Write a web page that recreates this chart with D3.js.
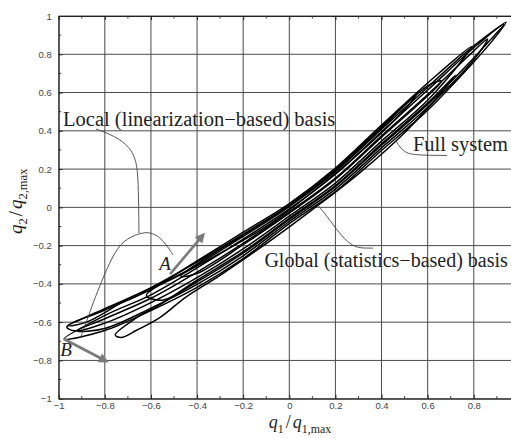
<!DOCTYPE html>
<html>
<head>
<meta charset="utf-8">
<script src="https://cdn.jsdelivr.net/npm/d3@7"></script>
<style>
  body { margin: 0; background: #fff; }
  svg { display: block; }
</style>
</head>
<body>
<svg id="chart" width="511" height="438"></svg>
<script>
// Axis ticks (normalised displacements)
const xTickValues = [-1, -0.8, -0.6, -0.4, -0.2, 0, 0.2, 0.4, 0.6, 0.8, 1];
const yTickValues = [-1, -0.8, -0.6, -0.4, -0.2, 0, 0.2, 0.4, 0.6, 0.8, 1];
const minorTickValues = [-0.9, -0.7, -0.5, -0.3, -0.1, 0.1, 0.3, 0.5, 0.7, 0.9];
const xTickLabels = ["\u22121", "\u22120.8", "\u22120.6", "\u22120.4", "\u22120.2", "0", "0.2", "0.4", "0.6", "0.8"];
const yTickLabels = ["\u22121", "\u22120.8", "\u22120.6", "\u22120.4", "\u22120.2", "0", "0.2", "0.4", "0.6", "0.8", "1"];

// Phase-plane orbits of the full system (q1/q1,max, q2/q2,max), one closed cycle each
const orbit1 = [[-0.977,-0.688],[-0.8,-0.565],[-0.6,-0.457],[-0.4,-0.316],[-0.2,-0.166],[0,-0.008],[0.2,0.173],[0.4,0.395],[0.6,0.613],[0.8,0.834],[0.94,0.968],[0.88,0.87],[0.8,0.76],[0.6,0.508],[0.4,0.297],[0.2,0.082],[0,-0.085],[-0.2,-0.268],[-0.4,-0.418],[-0.6,-0.539],[-0.8,-0.644]];
const orbit2 = [[-0.965,-0.625],[-0.8,-0.537],[-0.6,-0.428],[-0.4,-0.28],[-0.2,-0.13],[0,0.02],[0.2,0.205],[0.4,0.43],[0.6,0.65],[0.79,0.84],[0.75,0.77],[0.6,0.56],[0.4,0.346],[0.2,0.127],[0,-0.046],[-0.2,-0.217],[-0.4,-0.367],[-0.6,-0.498],[-0.8,-0.605],[-0.93,-0.645]];
const orbit3 = [[-0.755,-0.667],[-0.66,-0.575],[-0.55,-0.5],[-0.4,-0.381],[-0.2,-0.232],[0,-0.057],[0.2,0.114],[0.4,0.332],[0.6,0.545],[0.72,0.69],[0.66,0.6],[0.5,0.39],[0.3,0.175],[0.1,-0.012],[-0.1,-0.19],[-0.3,-0.355],[-0.45,-0.47],[-0.56,-0.575],[-0.66,-0.641],[-0.73,-0.68]];
const orbit4 = [[-0.62,-0.46],[-0.4,-0.302],[-0.2,-0.152],[0,0.004],[0.2,0.186],[0.4,0.409],[0.6,0.628],[0.8,0.844],[0.93,0.955],[0.86,0.86],[0.8,0.781],[0.6,0.538],[0.4,0.325],[0.2,0.108],[0,-0.063],[-0.2,-0.239],[-0.4,-0.389],[-0.55,-0.485]];
const orbit5 = [[-0.92,-0.645],[-0.8,-0.582],[-0.6,-0.475],[-0.4,-0.338],[-0.2,-0.188],[0,-0.024],[0.2,0.153],[0.4,0.374],[0.6,0.59],[0.8,0.818],[0.86,0.88],[0.8,0.771],[0.6,0.523],[0.4,0.311],[0.2,0.095],[0,-0.074],[-0.2,-0.253],[-0.4,-0.403],[-0.6,-0.527],[-0.8,-0.633]];
const orbit6 = [[-0.47,-0.36],[-0.4,-0.295],[-0.2,-0.145],[0,0.009],[0.2,0.192],[0.4,0.416],[0.6,0.635],[0.66,0.66],[0.6,0.583],[0.4,0.367],[0.2,0.147],[0,-0.03],[-0.2,-0.195],[-0.4,-0.345]];
const orbit7 = [[-0.96,-0.618],[-0.8,-0.53],[-0.6,-0.42],[-0.4,-0.285],[-0.2,-0.14],[0,0.012],[0.2,0.198],[0.4,0.422],[0.55,0.59],[0.5,0.51],[0.3,0.28],[0.1,0.08],[-0.1,-0.1],[-0.3,-0.24],[-0.5,-0.37],[-0.7,-0.48],[-0.88,-0.6]];
const orbits = [orbit1, orbit2, orbit3, orbit4, orbit5, orbit6, orbit7];

// Basis vectors at the two linearisation points A and B
const vectorA = [[-0.517,-0.349],[-0.374,-0.145]];
const vectorB = [[-0.977,-0.688],[-0.795,-0.803]];

// Leader lines from the labels to the curves
const leaderLocal = [[-0.838,0.409],[-0.756,0.373],[-0.691,0.315],[-0.665,0.247],[-0.656,0.169],[-0.653,0.0],[-0.652,-0.134]];
const leaderLocalArch = [[-0.903,-0.673],[-0.877,-0.589],[-0.851,-0.5],[-0.812,-0.38],[-0.769,-0.26],[-0.721,-0.171],[-0.647,-0.134],[-0.604,-0.129],[-0.561,-0.155],[-0.526,-0.207],[-0.504,-0.249]];
const leaderFull = [[0.463,0.346],[0.48,0.314],[0.502,0.289],[0.532,0.273],[0.684,0.271]];
const leaderGlobal = [[0.124,0.012],[0.176,-0.066],[0.229,-0.155],[0.276,-0.202],[0.307,-0.213],[0.363,-0.213]];

// Annotation texts and their anchors (data units)
const annotationTexts = ["Local (linearization\u2212based) basis", "Full system", "Global (statistics\u2212based) basis"];
const annotationAnchors = [[-0.981,0.425],[0.536,0.294],[-0.108,-0.312]];
const pointNames = ["A", "B"];
const pointAnchors = [[-0.539,-0.328],[-0.968,-0.775]];

const svg = d3.select("#chart");
const x = d3.scaleLinear().domain([-1, 1]).range([58.7, 519.9]);
const y = d3.scaleLinear().domain([-1, 1]).range([398.7, 16]);

const defs = svg.append("defs");
defs.append("clipPath").attr("id", "plotClip")
  .append("rect").attr("x", x(-1)).attr("y", y(1)).attr("width", x(1) - x(-1)).attr("height", y(-1) - y(1));
defs.append("marker").attr("id", "arrowHead")
  .attr("viewBox", "0 0 10 10").attr("refX", 7).attr("refY", 5)
  .attr("markerWidth", 4.4).attr("markerHeight", 3.8).attr("orient", "auto")
  .attr("markerUnits", "strokeWidth")
  .append("path").attr("d", "M0,0 L10,5 L0,10 z").attr("fill", "#7a7a7a");

// grid
const grid = svg.append("g").attr("stroke", "#4a4a4a").attr("stroke-width", 1);
grid.selectAll("line.v").data(xTickValues).join("line").attr("class", "v")
  .attr("x1", d => x(d)).attr("x2", d => x(d)).attr("y1", y(1)).attr("y2", y(-1));
grid.selectAll("line.h").data(yTickValues).join("line").attr("class", "h")
  .attr("x1", x(-1)).attr("x2", x(1)).attr("y1", d => y(d)).attr("y2", d => y(d));

// axes (ticks point inward)
const axisStyle = g => {
  g.select(".domain").attr("stroke", "#222");
  g.selectAll(".tick line").attr("stroke", "#222");
  g.selectAll("text").attr("fill", "#444").attr("font-family", "Liberation Sans, Arial, sans-serif").attr("font-size", 9.5);
};
svg.append("g").attr("transform", `translate(0,${y(-1)})`)
  .call(d3.axisBottom(x).tickValues(xTickValues.slice(0, xTickLabels.length)).tickFormat((d, i) => xTickLabels[i]).tickSizeInner(-4).tickSizeOuter(0).tickPadding(4))
  .call(axisStyle);
svg.append("g").attr("transform", `translate(${x(-1)},0)`)
  .call(d3.axisLeft(y).tickValues(yTickValues).tickFormat((d, i) => yTickLabels[i]).tickSizeInner(-4).tickSizeOuter(0).tickPadding(7))
  .call(axisStyle);
svg.append("g").attr("transform", `translate(0,${y(1)})`)
  .call(d3.axisTop(x).tickValues(xTickValues).tickFormat("").tickSizeInner(-4).tickSizeOuter(0))
  .call(axisStyle);
// minor ticks
const minor = svg.append("g").attr("stroke", "#333").attr("stroke-width", 1);
minor.selectAll("line.mb").data(minorTickValues).join("line").attr("class", "mb")
  .attr("x1", d => x(d)).attr("x2", d => x(d)).attr("y1", y(-1)).attr("y2", y(-1) - 2.5);
minor.selectAll("line.mt").data(minorTickValues).join("line").attr("class", "mt")
  .attr("x1", d => x(d)).attr("x2", d => x(d)).attr("y1", y(1)).attr("y2", y(1) + 2.5);
minor.selectAll("line.ml").data(minorTickValues).join("line").attr("class", "ml")
  .attr("x1", x(-1)).attr("x2", x(-1) + 2.5).attr("y1", d => y(d)).attr("y2", d => y(d));

// orbits
const plot = svg.append("g").attr("clip-path", "url(#plotClip)");
const orbitLine = d3.line().x(d => x(d[0])).y(d => y(d[1])).curve(d3.curveCatmullRomClosed.alpha(0.5));
plot.selectAll("path.orbit").data(orbits).join("path").attr("class", "orbit")
  .attr("d", orbitLine).attr("fill", "none").attr("stroke", "#000").attr("stroke-width", 1.5);

// leader lines
const leaderLine = d3.line().x(d => x(d[0])).y(d => y(d[1])).curve(d3.curveBasis);
plot.selectAll("path.leader").data([leaderLocal, leaderLocalArch, leaderFull, leaderGlobal]).join("path")
  .attr("class", "leader").attr("d", leaderLine).attr("fill", "none").attr("stroke", "#444").attr("stroke-width", 0.9);

// basis vectors
const straight = d3.line().x(d => x(d[0])).y(d => y(d[1]));
plot.selectAll("path.vec").data([vectorA, vectorB]).join("path").attr("class", "vec")
  .attr("d", straight).attr("stroke", "#7a7a7a").attr("stroke-width", 2.6).attr("fill", "none")
  .attr("marker-end", "url(#arrowHead)");

// annotation texts
svg.selectAll("text.note").data(annotationTexts).join("text").attr("class", "note")
  .attr("x", (d, i) => x(annotationAnchors[i][0])).attr("y", (d, i) => y(annotationAnchors[i][1]))
  .attr("font-family", "Liberation Serif, Times New Roman, serif").attr("font-size", (d, i) => i === 2 ? 20 : 20.5).attr("fill", "#222")
  .text(d => d);
svg.selectAll("text.pt").data(pointNames).join("text").attr("class", "pt")
  .attr("x", (d, i) => x(pointAnchors[i][0])).attr("y", (d, i) => y(pointAnchors[i][1]))
  .attr("text-anchor", "middle")
  .attr("font-family", "Liberation Serif, Times New Roman, serif").attr("font-style", "italic").attr("font-size", 19).attr("fill", "#222")
  .text(d => d);

// axis titles q1/q1,max and q2/q2,max
function axisTitle(g, idx, size) {
  const sub = size * 0.66;
  const t = g.append("text").attr("font-family", "Liberation Serif, Times New Roman, serif").attr("fill", "#222")
    .attr("text-anchor", "middle");
  t.append("tspan").attr("font-style", "italic").attr("font-size", size).text("q");
  t.append("tspan").attr("font-size", sub).attr("dy", 5).text(idx);
  t.append("tspan").attr("font-size", size).attr("dy", -5).attr("dx", 2).text("/");
  t.append("tspan").attr("font-style", "italic").attr("font-size", size).attr("dx", 2).text("q");
  t.append("tspan").attr("font-size", sub).attr("dy", 5).text(idx + ",max");
  return t;
}
axisTitle(svg.append("g").attr("transform", "translate(300,428)"), "1", 18);
axisTitle(svg.append("g").attr("transform", `translate(22,${y(0) - 6}) rotate(-90)`), "2", 19);
</script>
</body>
</html>
